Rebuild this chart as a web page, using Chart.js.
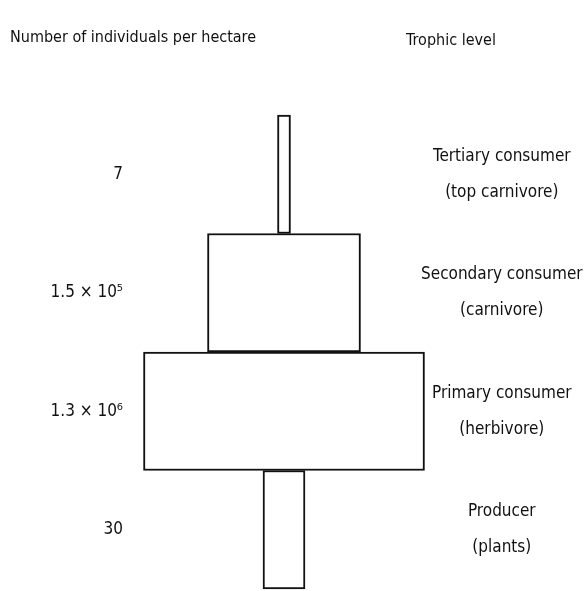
<!DOCTYPE html>
<html>
<head>
  <meta charset="utf-8">
  <title>Pyramid of numbers</title>
  <script src="https://cdn.jsdelivr.net/npm/chart.js"></script>
  <style>
    body { margin: 0; background: #fff; }
    #wrap { width: 587px; height: 591px; }
  </style>
</head>
<body>
  <div id="wrap"><canvas id="chart"></canvas></div>
  <script>
    // trophic levels, top to bottom
    const levels = [
      ['Tertiary consumer', '(top carnivore)'],
      ['Secondary consumer', '(carnivore)'],
      ['Primary consumer', '(herbivore)'],
      ['Producer', '(plants)']
    ];
    // number of individuals per hectare
    const counts = ['7', '1.5 × 10⁵', '1.3 × 10⁶', '30'];
    // drawn width of each block (schematic, not to scale)
    const blockWidths = [13, 153, 281, 42];

    const headerLeft = 'Number of individuals per hectare';
    const headerRight = 'Trophic level';

    const FONT = "'DejaVu Sans Condensed', 'DejaVu Sans', sans-serif";
    const INK = '#111111';

    const headers = {
      id: 'headers',
      afterDraw(chart) {
        const c = chart.ctx;
        c.save();
        c.fillStyle = INK;
        c.font = '16px ' + FONT;
        c.textBaseline = 'middle';
        c.textAlign = 'left';
        c.fillText(headerLeft, 10, 38);
        c.textAlign = 'center';
        c.fillText(headerRight, 451, 41);
        c.restore();
      }
    };

    const noPad = s => { s.paddingTop = 0; s.paddingBottom = 0; };

    new Chart(document.getElementById('chart'), {
      type: 'bar',
      data: {
        labels: counts,
        datasets: [{
          data: blockWidths.map(w => [-w / 2, w / 2]),
          backgroundColor: '#ffffff',
          borderColor: INK,
          borderWidth: 2,
          borderSkipped: false,
          barPercentage: 1,
          categoryPercentage: 1,
          clip: false
        }]
      },
      plugins: [headers],
      options: {
        indexAxis: 'y',
        responsive: true,
        maintainAspectRatio: false,
        animation: false,
        layout: { padding: { top: 115, bottom: 2, left: 0, right: 0 } },
        plugins: { legend: { display: false }, tooltip: { enabled: false } },
        scales: {
          x: {
            display: false,
            min: -154,
            max: 132
          },
          y: {
            position: 'left',
            grid: { display: false, drawTicks: false },
            border: { display: false },
            ticks: { color: INK, padding: 7, font: { family: FONT, size: 17 } },
            afterFit: s => { s.width = 130; noPad(s); }
          },
          y2: {
            type: 'category',
            position: 'right',
            labels: levels,
            offset: true,
            grid: { display: false, drawTicks: false },
            border: { display: false },
            ticks: {
              color: INK,
              padding: 5,
              crossAlign: 'center',
              font: { family: FONT, size: 17, lineHeight: 2.1 }
            },
            afterFit: s => { s.width = 171; noPad(s); }
          }
        }
      }
    });
  </script>
</body>
</html>
